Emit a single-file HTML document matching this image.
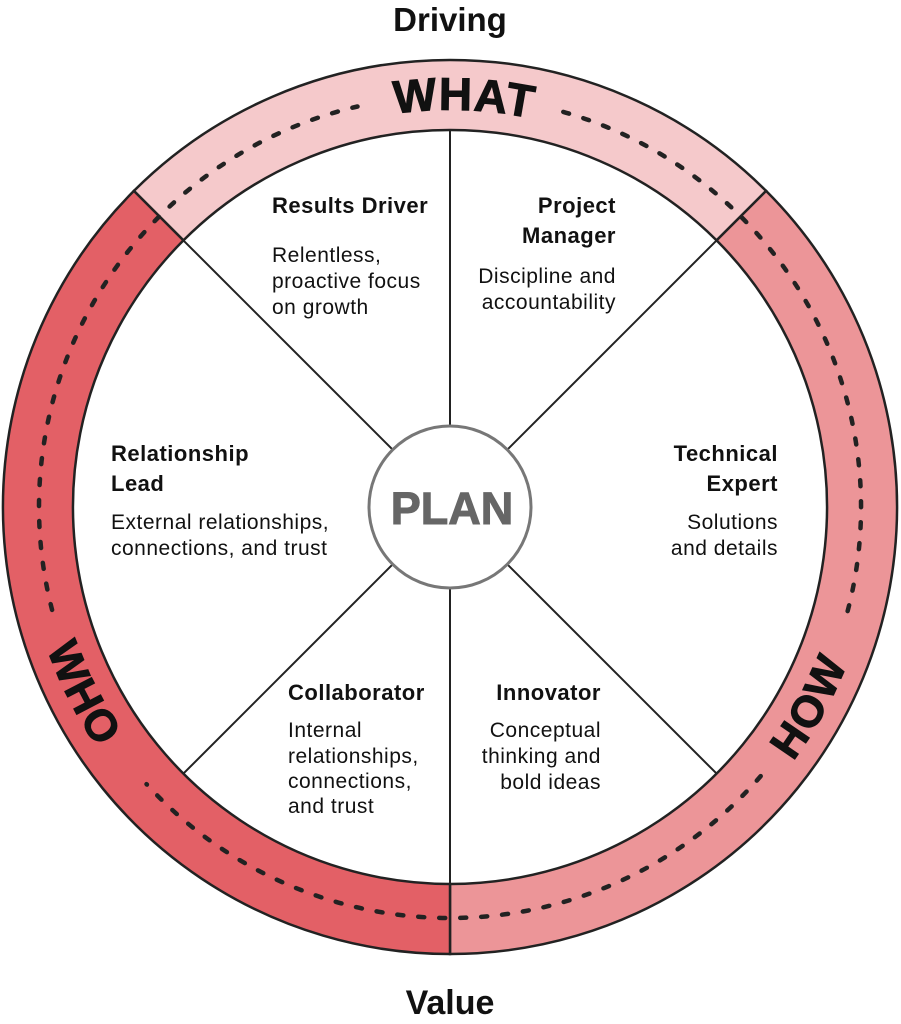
<!DOCTYPE html>
<html><head><meta charset="utf-8"><style>
html,body{margin:0;padding:0;background:#fff;}
svg{display:block;}
text{font-family:"Liberation Sans",sans-serif;fill:#111;}
.t{font-size:22px;font-weight:bold;letter-spacing:0.5px;}
.b{font-size:21px;letter-spacing:0.5px;}
</style></head><body>
<svg width="901" height="1024" viewBox="0 0 901 1024" xmlns="http://www.w3.org/2000/svg">
<defs>
<path id="top" d="M53,507 A397,397 0 0 1 847,507"/>
<path id="bot" d="M23,507 A427,427 0 0 0 877,507"/>
</defs>
<path d="M133.9,190.9 A447,447 0 0 1 766.1,190.9 L716.6,240.4 A377,377 0 0 0 183.4,240.4 Z" fill="#f5c9cb" stroke="#222" stroke-width="2.5"/>
<path d="M766.1,190.9 A447,447 0 0 1 450,954 L450,884 A377,377 0 0 0 716.6,240.4 Z" fill="#ec9598" stroke="#222" stroke-width="2.5"/>
<path d="M450,954 A447,447 0 0 1 133.9,190.9 L183.4,240.4 A377,377 0 0 0 450,884 Z" fill="#e36066" stroke="#222" stroke-width="2.5"/>
<g fill="none" stroke="#222" stroke-width="4.5" stroke-linecap="round" stroke-dasharray="6 15">
<path d="M563.3,111.9 A411,411 0 0 1 847.4,612"/>
<path d="M760.7,776.1 A411,411 0 0 1 146.5,784.1"/>
<path d="M52.1,609.9 A411,411 0 0 1 357.5,106.5"/>
</g>
<g stroke="#222" stroke-width="2">
<line x1="450" y1="426" x2="450" y2="130"/>
<line x1="450" y1="588" x2="450" y2="884"/>
<line x1="507.3" y1="564.3" x2="716.6" y2="773.6"/>
<line x1="392.7" y1="564.3" x2="183.4" y2="773.6"/>
<line x1="507.3" y1="449.7" x2="716.6" y2="240.4"/>
<line x1="392.7" y1="449.7" x2="183.4" y2="240.4"/>
</g>
<circle cx="450" cy="507" r="81" fill="#fff" stroke="#777" stroke-width="3"/>
<text x="452" y="524" text-anchor="middle" style="font-size:45px;font-weight:bold;fill:#666;stroke:#666;stroke-width:1">PLAN</text>
<text style="font-size:46px;font-weight:bold;letter-spacing:1px;stroke:#111;stroke-width:1"><textPath href="#top" startOffset="637" text-anchor="middle">WHAT</textPath></text>
<text style="font-size:44px;font-weight:bold;letter-spacing:2px;stroke:#111;stroke-width:1"><textPath href="#bot" startOffset="201" text-anchor="middle">WHO</textPath></text>
<text style="font-size:44px;font-weight:bold;letter-spacing:2px;stroke:#111;stroke-width:1"><textPath href="#bot" startOffset="1125" text-anchor="middle">HOW</textPath></text>
<text x="450" y="31" text-anchor="middle" style="font-size:33px;font-weight:bold">Driving</text>
<text x="450" y="1014" text-anchor="middle" style="font-size:34px;font-weight:bold">Value</text>

<text class="t" x="272" y="213">Results Driver</text>
<text class="b" x="272" y="262">Relentless,</text>
<text class="b" x="272" y="288">proactive focus</text>
<text class="b" x="272" y="314">on growth</text>

<g text-anchor="end">
<text class="t" x="616" y="213">Project</text>
<text class="t" x="616" y="243">Manager</text>
<text class="b" x="616" y="283">Discipline and</text>
<text class="b" x="616" y="309">accountability</text>

<text class="t" x="778" y="461">Technical</text>
<text class="t" x="778" y="491">Expert</text>
<text class="b" x="778" y="529">Solutions</text>
<text class="b" x="778" y="555">and details</text>

<text class="t" x="601" y="700">Innovator</text>
<text class="b" x="601" y="737">Conceptual</text>
<text class="b" x="601" y="763">thinking and</text>
<text class="b" x="601" y="789">bold ideas</text>
</g>

<text class="t" x="111" y="461">Relationship</text>
<text class="t" x="111" y="491">Lead</text>
<text class="b" x="111" y="529">External relationships,</text>
<text class="b" x="111" y="555">connections, and trust</text>

<text class="t" x="288" y="700">Collaborator</text>
<text class="b" x="288" y="737">Internal</text>
<text class="b" x="288" y="763">relationships,</text>
<text class="b" x="288" y="788">connections,</text>
<text class="b" x="288" y="813">and trust</text>
</svg>
</body></html>
